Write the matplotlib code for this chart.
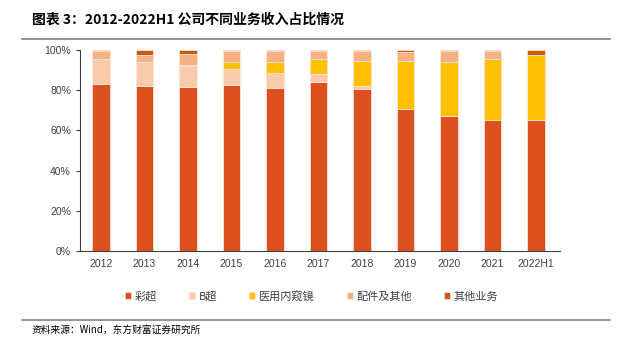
import matplotlib
matplotlib.use("Agg")
import matplotlib.pyplot as plt
import numpy as np

plt.rcParams['font.family'] = ['Liberation Sans', 'Noto Sans CJK SC', 'DejaVu Sans']

years = ["2012", "2013", "2014", "2015", "2016", "2017", "2018", "2019", "2020", "2021", "2022H1"]
series_names = ["彩超", "B超", "医用内窥镜", "配件及其他", "其他业务"]
color_ultra = [83.3, 82.2, 81.8, 82.7, 81.2, 84.0, 80.5, 70.8, 67.3, 65.3, 65.0]
b_ultra = [12.2, 11.8, 10.0, 8.0, 7.6, 4.2, 1.7, 0.0, 0.0, 0.0, 0.0]
endoscope = [0.0, 0.0, 0.7, 3.3, 5.2, 7.3, 12.3, 23.5, 26.9, 30.0, 32.5]
accessories = [4.0, 3.3, 5.5, 5.7, 5.7, 4.2, 5.0, 4.9, 5.3, 4.4, 0.0]
other_biz = [0.5, 2.7, 2.0, 0.3, 0.3, 0.3, 0.5, 0.8, 0.5, 0.3, 2.5]

colors = ["#DE4F1F", "#F8CBAD", "#FFC000", "#F4B183", "#C55A11"]

fig = plt.figure(figsize=(6.23, 3.40), dpi=100)
ax = fig.add_axes([80 / 623, 89 / 340, 480 / 623, 201 / 340])

x = np.arange(len(years))
bottom = np.zeros(len(years))
for name, vals, c in zip(series_names,
                         [color_ultra, b_ultra, endoscope, accessories, other_biz],
                         colors):
    vals = np.array(vals)
    ax.bar(x, vals, width=0.4, bottom=bottom, color=c, label=name,
           edgecolor="#FBE3D6", linewidth=0.6)
    bottom += vals

ax.set_xlim(-0.48, 10.55)
ax.set_ylim(0, 100)
ax.set_yticks(np.arange(0, 101, 20))
ax.set_yticklabels(["{0}%".format(v) for v in range(0, 101, 20)])
ax.set_xticks(x)
ax.set_xticklabels(years)
ax.tick_params(axis="y", length=3, labelsize=7.5, colors="#404040", labelcolor="#404040")
ax.tick_params(axis="x", length=0, labelsize=7.5, labelcolor="#404040", pad=6)
for s in ["top", "right"]:
    ax.spines[s].set_visible(False)
for s in ["left", "bottom"]:
    ax.spines[s].set_color("#404040")
    ax.spines[s].set_linewidth(0.8)

leg = fig.legend(loc="center", bbox_to_anchor=(0.5, 44 / 340), ncol=5,
                 frameon=False, handlelength=0.55, handleheight=0.55,
                 handletextpad=0.3, columnspacing=2.9,
                 prop={"family": ["Noto Sans CJK SC", "DejaVu Sans"], "size": 8})
for t in leg.get_texts():
    t.set_color("#404040")

# title and rules
fig.text(32 / 623, 1 - 20 / 340, "图表 3：2012-2022H1 公司不同业务收入占比情况",
         fontsize=10, fontweight="bold", va="center", ha="left",
         family=["Noto Sans CJK SC", "DejaVu Sans"])
fig.add_artist(plt.Line2D([22 / 623, 610 / 623], [1 - 39 / 340, 1 - 39 / 340],
                          color="#808080", linewidth=1.2))
fig.add_artist(plt.Line2D([22 / 623, 610 / 623], [1 - 320 / 340, 1 - 320 / 340],
                          color="#808080", linewidth=1.2))
fig.text(32 / 623, 1 - 330 / 340, "资料来源：Wind，东方财富证券研究所",
         fontsize=7, va="center", ha="left",
         family=["Noto Sans CJK SC", "DejaVu Sans"])

fig.savefig("out.png", dpi=100)
